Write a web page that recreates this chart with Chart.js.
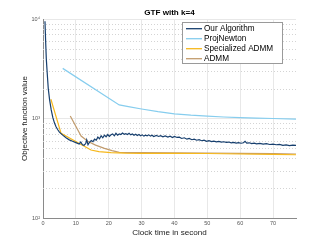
<!DOCTYPE html>
<html><head><meta charset="utf-8">
<script src="https://cdn.jsdelivr.net/npm/chart.js@4.4.1/dist/chart.umd.min.js"></script>
<style>html,body{margin:0;padding:0;background:#fff}canvas{display:block}</style>
</head><body>
<canvas id="c" width="327" height="245"></canvas>
<script>
const chartTitle = 'GTF with k=4';
const xLabel = 'Clock time in second';
const yLabel = 'Objective function value';
const xTicks = [0,10,20,30,40,50,60,70];
const yTicks = [100,1000,10000];
const yTickLabels = ['10\u00B2','10\u00B3','10\u2074'];
const seriesNames = ['Our Algorithm','ProjNewton','Specialized ADMM','ADMM'];
const seriesColors = ['#173f6e','#86cdee','#f6b81c','#c29c6e'];

const ourT = [0.6,0.8,1.0,1.3,1.6,2.0,2.5,3.0,3.5,4.0,4.5,5.0,6.0,7.0,8.0,9.0,10.0,11.0,11.5,12.0,12.5,13.0,13.3,13.7,14.2,14.7,15.2,15.7,16.2,16.7,17.2,17.7,18.2,18.7,19.2,19.7,20.2,20.7,21.2,21.7,22.2,22.7,23.2,23.7,24.2,24.7,25.2,25.7,26.2,26.7,27.2,27.7,28.2,28.7,29.2,29.7,30.2,30.7,31.2,31.7,32.2,32.7,33.2,33.7,34.5,35.2,35.8,36.5,37.2,38,38.7,39.4,40,40.8,41.5,42.2,43,43.8,44.5,45.3,46,46.8,47.5,48.3,49,49.8,50.5,51.3,52,52.8,53.5,54.3,55,55.8,56.5,57.3,58,58.8,59.5,60.3,61,61.5,62,62.8,63.5,64.3,65,66,67,68,69,70,71,72,73,74,75,76,77];
const ourV = [9500,6000,4000,2800,2000,1550,1220,1020,900,820,770,730,680,640,610,590,572,555,580,545,538,560,610,545,580,600,585,620,605,650,625,670,640,680,655,690,660,685,700,670,710,680,700,690,715,695,705,690,710,685,700,680,695,675,690,670,685,665,680,670,685,665,680,660,675,660,672,655,668,650,665,645,660,645,650,630,640,620,630,612,620,605,612,598,605,590,598,585,592,582,588,578,584,575,580,570,576,566,572,564,570,590,565,570,560,566,556,562,552,558,548,552,545,550,538,544,535,540,536];

const projT = [6,23.2,26,30,35,40,45,50,55,60,65,70,77];
const projV = [3190,1368,1315,1245,1170,1115,1080,1055,1035,1022,1010,1000,985];

const specT = [2.4,5.5,14.6,17,20.7,25,30,40,50,60,70,77];
const specV = [1560,710,482,465,453,448,447,446,445,440,436,432];

const admmT = [8.3,11.6,13.6,16,18.7,21,23.2,30,40,50,60,70,77];
const admmV = [1059,667,590,540,501,475,457,455,452,450,447,444,440];

function pts(t, v){ return t.map((x,i)=>({x:x,y:v[i]})); }
const allT = [ourT, projT, specT, admmT];
const allV = [ourV, projV, specV, admmV];

const FONT = '"Liberation Sans", Arial, Helvetica, sans-serif';

const minorGrid = {
  id:'minorGrid',
  beforeDatasetsDraw(chart){
    const {ctx, chartArea:a, scales:{y}} = chart;
    ctx.save();
    ctx.strokeStyle = '#d4d4d4';
    ctx.lineWidth = 1;
    ctx.setLineDash([1,2]);
    [100,1000].forEach(d=>{
      for(let m=2;m<=9;m++){
        const py = Math.round(y.getPixelForValue(m*d))+0.5;
        ctx.beginPath(); ctx.moveTo(a.left, py); ctx.lineTo(a.right, py); ctx.stroke();
      }
    });
    ctx.restore();
  }
};

const titleAndLegend = {
  id:'titleAndLegend',
  afterDatasetsDraw(chart){
    const {ctx, chartArea:a} = chart;
    ctx.save();
    ctx.fillStyle = '#000';
    ctx.font = 'bold 8.1px ' + FONT;
    ctx.textAlign = 'center';
    ctx.textBaseline = 'middle';
    ctx.fillText(chartTitle, (a.left+a.right)/2, 12.3);
    // legend box
    const bx = 182.5, by = 22.5, bw = 100, bh = 41;
    ctx.fillStyle = '#fff';
    ctx.fillRect(bx, by, bw, bh);
    ctx.strokeStyle = '#9a9a9a';
    ctx.lineWidth = 1;
    ctx.strokeRect(bx, by, bw, bh);
    ctx.font = '8.2px ' + FONT;
    ctx.textAlign = 'left';
    chart.data.datasets.forEach((ds,i)=>{
      const yy = 28.7 + i*10;
      ctx.strokeStyle = ds.borderColor;
      ctx.lineWidth = 1.3;
      ctx.beginPath(); ctx.moveTo(186, yy); ctx.lineTo(202, yy); ctx.stroke();
      ctx.fillStyle = '#000';
      ctx.fillText(ds.label, 204, yy+0.5);
    });
    ctx.restore();
  }
};

new Chart(document.getElementById('c'), {
  type:'line',
  data:{
    datasets: seriesNames.map((n,i)=>({
      label:n,
      data: pts(allT[i], allV[i]),
      borderColor: seriesColors[i],
      backgroundColor: seriesColors[i],
      borderWidth: 1.2,
      pointRadius: 0,
      tension: 0,
      fill: false
    }))
  },
  options:{
    responsive:false,
    animation:false,
    devicePixelRatio:1,
    layout:{padding:{left:0,right:31,top:19,bottom:0}},
    plugins:{legend:{display:false}, title:{display:false}, tooltip:{enabled:false}},
    scales:{
      x:{
        type:'linear', min:0, max:77,
        afterBuildTicks: s => { s.ticks = xTicks.map(v=>({value:v})); },
        afterFit: s => { s.height = 27; },
        grid:{color:'#e8e8e8', lineWidth:1, drawTicks:false},
        border:{display:true, color:'#8a8a8a', width:1},
        ticks:{padding:2.5, color:'#555', font:{family:FONT, size:5.5}, maxRotation:0, autoSkip:false},
        title:{display:true, text:xLabel, color:'#222', font:{family:FONT, size:8.1}, padding:{top:0,bottom:7.1}}
      },
      y:{
        type:'logarithmic', min:100, max:10000,
        afterBuildTicks: s => { s.ticks = yTicks.map(v=>({value:v})); },
        afterFit: s => { s.width = 43; },
        grid:{color:'#e8e8e8', lineWidth:1, drawTicks:false},
        border:{display:true, color:'#8a8a8a', width:1},
        ticks:{padding:3, color:'#555', font:{family:FONT, size:5.5},
          callback: v => { const k = yTicks.indexOf(v); return k>=0 ? yTickLabels[k] : ''; }},
        title:{display:true, text:yLabel, color:'#222', font:{family:FONT, size:8}, padding:{top:19.7,bottom:0}}
      }
    }
  },
  plugins:[minorGrid, titleAndLegend]
});
</script>
</body></html>
